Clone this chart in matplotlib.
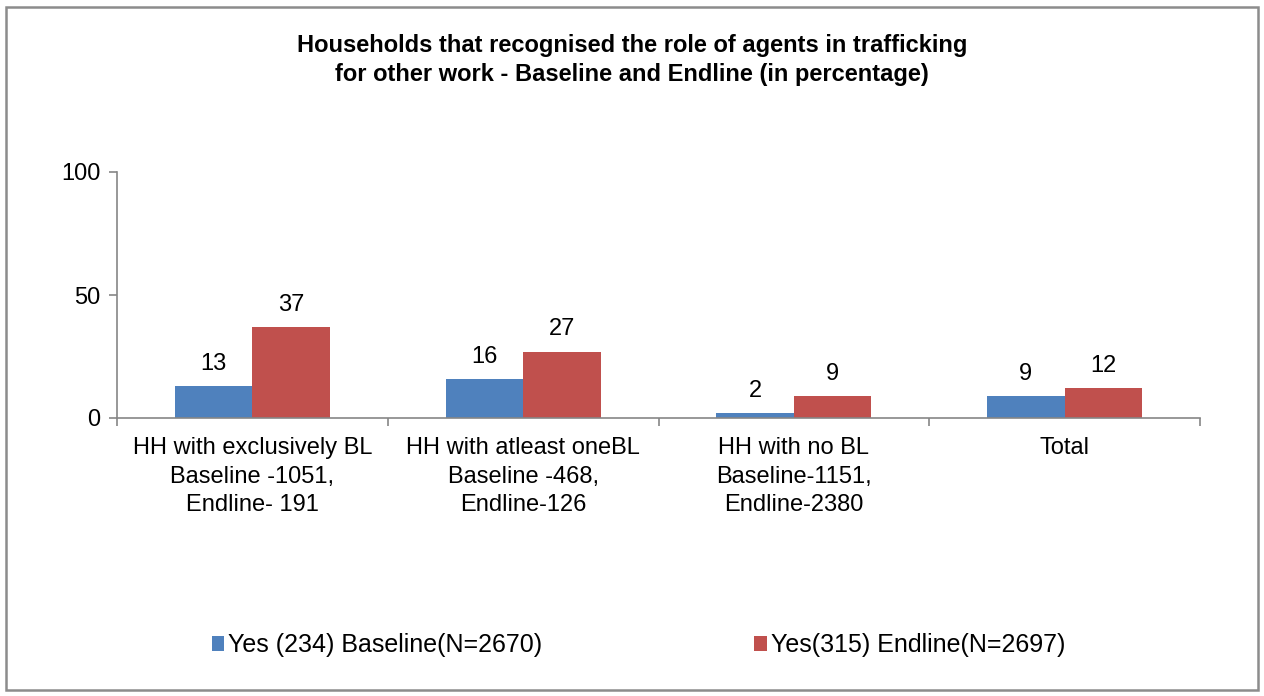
import numpy as np
import matplotlib
matplotlib.use("Agg")
import matplotlib.pyplot as plt
from matplotlib.patches import Rectangle

plt.rcParams.update({"font.family": ["Liberation Sans", "DejaVu Sans"]})

categories = ["HH with exclusively BL\nBaseline -1051,\nEndline- 191",
              "HH with atleast oneBL\nBaseline -468,\nEndline-126",
              "HH with no BL\nBaseline-1151,\nEndline-2380",
              "Total"]
baseline = [13, 16, 2, 9]
endline = [37, 27, 9, 12]
series_names = ["Yes (234) Baseline(N=2670)", "Yes(315) Endline(N=2697)"]
yticks = [0, 50, 100]

BLUE, RED, AXG = "#4F81BD", "#C0504D", "#868686"

fig = plt.figure(figsize=(12.64, 6.96), dpi=100)
ax = fig.add_axes([117 / 1264, 1 - 418 / 696, (1200 - 117) / 1264, (418 - 172) / 696])

x = np.arange(len(categories))
w = 0.286
b1 = ax.bar(x - w / 2, baseline, w, color=BLUE, label=series_names[0])
b2 = ax.bar(x + w / 2, endline, w, color=RED, label=series_names[1])
for bars, vals in [(b1, baseline), (b2, endline)]:
    for r, v in zip(bars, vals):
        ax.annotate(f"{v}", (r.get_x() + r.get_width() / 2, v), xytext=(0, 8),
                    textcoords="offset points", ha="center", va="bottom", fontsize=17)

ax.set_xlim(-0.5, len(categories) - 0.5)
ax.set_ylim(0, 100)
ax.set_yticks(yticks)
ax.set_xticks(np.arange(len(categories) + 1) - 0.5)
ax.set_xticklabels([])
ax.set_xticks(x, minor=True)
ax.set_xticklabels(categories, minor=True, fontsize=17, linespacing=1.38)
ax.tick_params(axis="x", which="minor", length=0, pad=14)
ax.tick_params(axis="x", which="major", length=6, color=AXG, width=1.2)
ax.tick_params(axis="y", length=6, color=AXG, width=1.2, labelsize=17, pad=6)
for s in ["top", "right"]:
    ax.spines[s].set_visible(False)
for s in ["left", "bottom"]:
    ax.spines[s].set_color(AXG)
    ax.spines[s].set_linewidth(1.2)

fig.text(0.5, 1 - 60 / 696, "Households that recognised the role of agents in trafficking\n"
         "for other work - Baseline and Endline (in percentage)",
         ha="center", va="center", fontsize=17, fontweight="bold", linespacing=1.3)

fig.legend(loc="center", bbox_to_anchor=(0.505, 1 - 645 / 696), ncol=2, frameon=False,
           fontsize=18, handlelength=0.5, handleheight=0.55, handletextpad=0.15,
           columnspacing=8.5)

fig.patches.append(Rectangle((6 / 1264, 6 / 696), 1252 / 1264, 683 / 696,
                             transform=fig.transFigure, fill=False, ec="#8c8c8c", lw=1.8))

fig.savefig("out.png", dpi=100, facecolor="white")
